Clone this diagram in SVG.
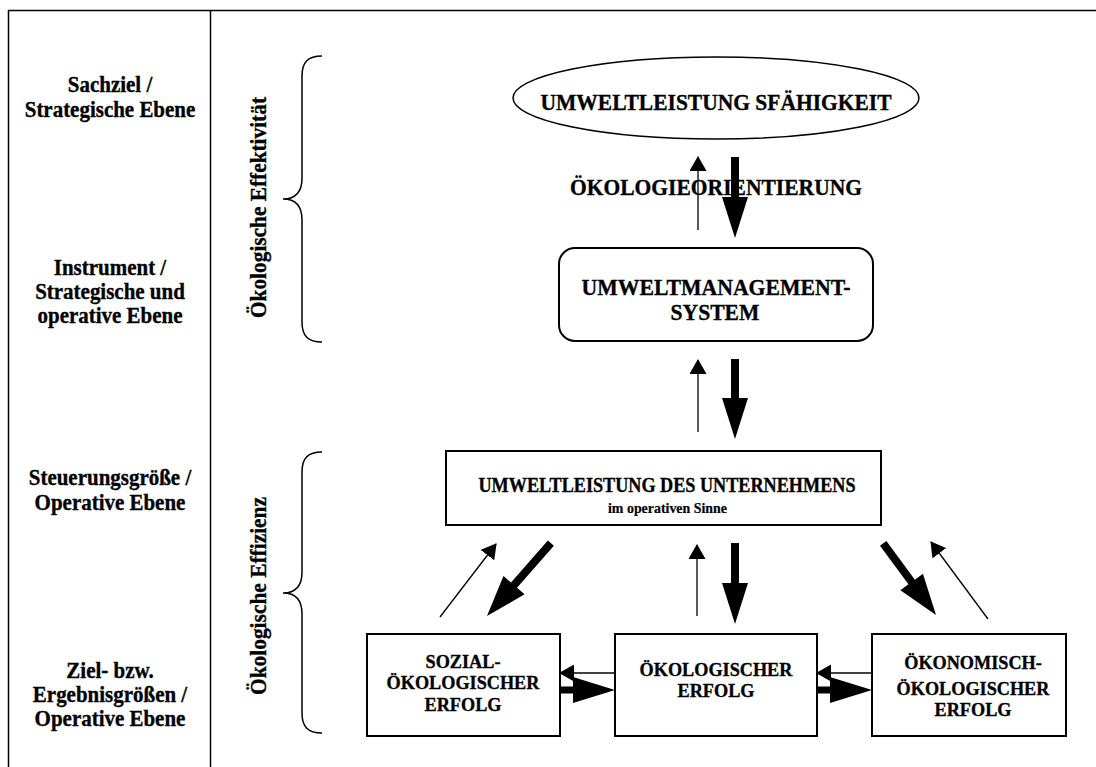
<svg xmlns="http://www.w3.org/2000/svg" width="1096" height="767" viewBox="0 0 1096 767">
<defs>
<style>
text{font-family:"Liberation Serif","Times New Roman",serif;font-weight:bold;fill:#000;stroke:#000;stroke-width:0.35;text-anchor:middle}
.lbl{font-size:22.8px}
.big{font-size:23.5px}
.box{font-size:19.6px}
.frame{stroke:#000;stroke-width:1.5;fill:none}
.node{stroke:#000;stroke-width:2;fill:#fff}
.thin{stroke:#000;stroke-width:1.3;fill:none;marker-end:url(#th)}
.thick{fill:#000;stroke:none}
.brace{stroke:#000;stroke-width:1.5;fill:none}
</style>
<marker id="th" markerUnits="userSpaceOnUse" viewBox="0 0 15 17" refX="14" refY="8.5" markerWidth="15" markerHeight="17" orient="auto">
<path d="M0,0 L15,8.5 L0,17 z" fill="#000"/>
</marker>
</defs>
<rect width="1096" height="767" fill="#fff"/>
<g id="frame">
<line class="frame" x1="8" y1="10.5" x2="1096" y2="10.5"/>
<line class="frame" x1="8.5" y1="10" x2="8.5" y2="767"/>
<line class="frame" x1="210.5" y1="10" x2="210.5" y2="767"/>
</g>
<g id="levels" transform="translate(110,0) scale(0.92,1)">
<text class="lbl" x="0" y="92">Sachziel /</text>
<text class="lbl" x="0" y="117">Strategische Ebene</text>
<text class="lbl" x="0" y="275">Instrument /</text>
<text class="lbl" x="0" y="299">Strategische und</text>
<text class="lbl" x="0" y="323">operative Ebene</text>
<text class="lbl" x="0" y="485">Steuerungsgröße /</text>
<text class="lbl" x="0" y="510">Operative Ebene</text>
<text class="lbl" x="0" y="678">Ziel- bzw.</text>
<text class="lbl" x="0" y="702">Ergebnisgrößen /</text>
<text class="lbl" x="0" y="726">Operative Ebene</text>
</g>
<g id="brace-effektivitaet">
<path class="brace" d="M322,56 C308,56 302,62 302,76 L302,178 C302,192 295,199 283,199 C295,199 302,206 302,220 L302,322 C302,336 308,342 322,342"/>
<text class="lbl" transform="translate(266,207.5) rotate(-90)" textLength="221" lengthAdjust="spacingAndGlyphs">Ökologische Effektivität</text>
</g>
<g id="brace-effizienz">
<path class="brace" d="M322,452 C308,452 302,458 302,472 L302,572 C302,586 295,593 283,593 C295,593 302,600 302,614 L302,713 C302,727 308,733 322,733"/>
<text class="lbl" transform="translate(266,596) rotate(-90)" textLength="198" lengthAdjust="spacingAndGlyphs">Ökologische Effizienz</text>
</g>
<g id="node-faehigkeit">
<ellipse cx="716" cy="98" rx="203" ry="41" fill="#fff" stroke="#000" stroke-width="1.5"/>
<text class="big" x="716" y="110" textLength="351" lengthAdjust="spacingAndGlyphs">UMWELTLEISTUNG SFÄHIGKEIT</text>
</g>
<g id="node-ums">
<rect class="node" x="559" y="248" width="314" height="93" rx="16"/>
<text class="big" x="716" y="295" textLength="269" lengthAdjust="spacingAndGlyphs">UMWELTMANAGEMENT-</text>
<text class="big" transform="translate(715,320) scale(0.92,1)" x="0" y="0">SYSTEM</text>
</g>
<g id="node-ulu">
<rect class="node" x="446" y="451" width="435" height="74"/>
<text x="667" y="492" style="font-size:21px" textLength="377" lengthAdjust="spacingAndGlyphs">UMWELTLEISTUNG DES UNTERNEHMENS</text>
<text x="667.5" y="513" style="font-size:15px;stroke-width:0.2" textLength="119" lengthAdjust="spacingAndGlyphs">im operativen Sinne</text>
</g>
<g id="node-sozial" >
<rect class="node" x="367" y="634" width="193" height="102"/>
<g transform="translate(463,0) scale(0.93,1)">
<text class="box" x="0" y="668">SOZIAL-</text>
<text class="box" x="0" y="689">ÖKOLOGISCHER</text>
<text class="box" x="0" y="711">ERFOLG</text>
</g>
</g>
<g id="node-oeko">
<rect class="node" x="615" y="634" width="202" height="102"/>
<g transform="translate(716,0) scale(0.93,1)">
<text class="box" x="0" y="676">ÖKOLOGISCHER</text>
<text class="box" x="0" y="697">ERFOLG</text>
</g>
</g>
<g id="node-oekon">
<rect class="node" x="872" y="634" width="194" height="102"/>
<g transform="translate(973,0) scale(0.93,1)">
<text class="box" x="0" y="669">ÖKONOMISCH-</text>
<text class="box" x="0" y="695">ÖKOLOGISCHER</text>
<text class="box" x="0" y="716">ERFOLG</text>
</g>
</g>
<g id="label-orientierung">
<text class="big" x="716" y="195" textLength="292" lengthAdjust="spacingAndGlyphs">ÖKOLOGIEORIENTIERUNG</text>
</g>
<g id="connectors">
<line class="thin" x1="698" y1="230" x2="698" y2="157"/>
<polygon class="thick" points="731,157 739,157 739,197 748,197 735,238 722,197 731,197"/>
<line class="thin" x1="698" y1="432" x2="698" y2="360"/>
<polygon class="thick" points="731,359 739,359 739,398 748,398 735,439 722,398 731,398"/>
<line class="thin" x1="440" y1="617" x2="496" y2="544"/>
<g transform="translate(487,616) rotate(131.2)"><polygon class="thick" points="-97,-4 -41,-4 -41,-14 0,0 -41,14 -41,4 -97,4"/></g>
<line class="thin" x1="697" y1="616" x2="697" y2="545"/>
<polygon class="thick" points="731,543 739,543 739,583 748,583 735,624 722,583 731,583"/>
<g transform="translate(936,615) rotate(53.6)"><polygon class="thick" points="-89,-4 -41,-4 -41,-14 0,0 -41,14 -41,4 -89,4"/></g>
<line class="thin" x1="988" y1="619" x2="931" y2="542"/>
<line class="thin" x1="615" y1="673" x2="560" y2="673"/>
<polygon class="thick" points="560,686.5 573,686.5 573,677 615,690 573,703 573,693.5 560,693.5"/>
<line class="thin" x1="872" y1="673" x2="817" y2="673"/>
<polygon class="thick" points="817,686.5 830,686.5 830,677 872,690 830,703 830,693.5 817,693.5"/>
</g>
</svg>
